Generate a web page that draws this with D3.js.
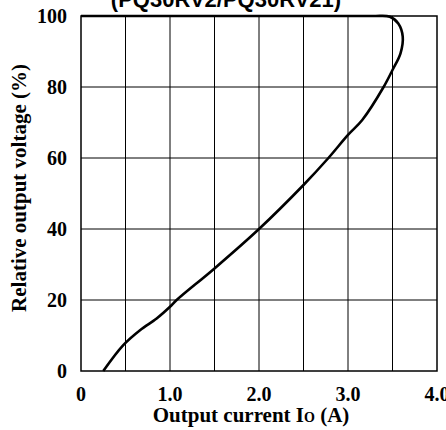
<!DOCTYPE html>
<html>
<head>
<meta charset="utf-8">
<script src="https://cdn.jsdelivr.net/npm/d3@7"></script>
<style>
  body { margin: 0; background: #fff; }
  svg { display: block; }
</style>
</head>
<body>
<svg id="chart"></svg>
<script>
// foldback curve (A, %)
const current = [0, 3.0, 3.30, 3.47, 3.565, 3.615, 3.59, 3.50, 3.40, 3.16, 3.0, 2.78, 2.5, 2.0, 1.5, 1.075, 1.0, 0.85, 0.663, 0.475, 0.25];
const voltage = [100, 100, 100, 99.8, 97.9, 94.2, 89.5, 84.8, 80, 70.7, 66.5, 60, 52.4, 40, 28.9, 20, 18.1, 14.8, 11.5, 7.3, 0];
const xTicks = [0, 1, 2, 3, 4];
const xTickLabels = ["0", "1.0", "2.0", "3.0", "4.0"];
const xGrid = [0.5, 1, 1.5, 2, 2.5, 3, 3.5];
const yTicks = [0, 20, 40, 60, 80, 100];

const width = 446, height = 430;
const plotLeft = 81, plotRight = 437, plotTop = 16, plotBottom = 371;
const serif = "'Liberation Serif', 'Times New Roman', serif";

const svg = d3.select("#chart")
    .attr("width", width)
    .attr("height", height);

const x = d3.scaleLinear().domain([0, 4]).range([plotLeft, plotRight]);
const y = d3.scaleLinear().domain([0, 100]).range([plotBottom, plotTop]);

// title (cut off at the top like the original)
svg.append("text")
    .attr("x", 226)
    .attr("y", 7)
    .attr("text-anchor", "middle")
    .style("font-family", "'Liberation Sans', Arial, sans-serif")
    .style("font-weight", "bold")
    .style("font-size", "22px")
    .text("(PQ30RV2/PQ30RV21)");

// grid
svg.append("g").selectAll("line")
    .data(xGrid)
    .join("line")
    .attr("x1", d => x(d)).attr("x2", d => x(d))
    .attr("y1", plotTop).attr("y2", plotBottom)
    .attr("stroke", "#000")
    .attr("stroke-width", 1);

svg.append("g").selectAll("line")
    .data(yTicks.slice(1, -1))
    .join("line")
    .attr("x1", plotLeft).attr("x2", plotRight)
    .attr("y1", d => y(d)).attr("y2", d => y(d))
    .attr("stroke", "#000")
    .attr("stroke-width", 1);

// frame
svg.append("rect")
    .attr("x", plotLeft).attr("y", plotTop)
    .attr("width", plotRight - plotLeft).attr("height", plotBottom - plotTop)
    .attr("fill", "none")
    .attr("stroke", "#000")
    .attr("stroke-width", 1.5);

// curve
const line = d3.line()
    .x((d, i) => x(current[i]))
    .y(d => y(d))
    .curve(d3.curveCatmullRom.alpha(0.5));

svg.append("path")
    .datum(voltage)
    .attr("d", line)
    .attr("fill", "none")
    .attr("stroke", "#000")
    .attr("stroke-width", 2.6);

// y tick labels
svg.append("g").selectAll("text")
    .data(yTicks)
    .join("text")
    .attr("x", 67)
    .attr("y", d => y(d))
    .attr("dy", "0.35em")
    .attr("text-anchor", "end")
    .style("font-family", serif)
    .style("font-weight", "bold")
    .style("font-size", "20px")
    .text(d => d);

// x tick labels
svg.append("g").selectAll("text")
    .data(xTicks)
    .join("text")
    .attr("x", d => x(d))
    .attr("y", 401)
    .attr("text-anchor", "middle")
    .style("font-family", serif)
    .style("font-weight", "bold")
    .style("font-size", "20px")
    .text((d, i) => xTickLabels[i]);

// x axis title
const xt = svg.append("text")
    .attr("x", 251)
    .attr("y", 422)
    .attr("text-anchor", "middle")
    .style("font-family", serif)
    .style("font-weight", "bold")
    .style("font-size", "21px");
xt.append("tspan").text("Output current I");
xt.append("tspan").style("font-size", "14px").text("O");
xt.append("tspan").text(" (A)");

// y axis title
svg.append("text")
    .attr("transform", "translate(26,188) rotate(-90)")
    .attr("text-anchor", "middle")
    .style("font-family", serif)
    .style("font-weight", "bold")
    .style("font-size", "21px")
    .text("Relative output voltage (%)");
</script>
</body>
</html>
